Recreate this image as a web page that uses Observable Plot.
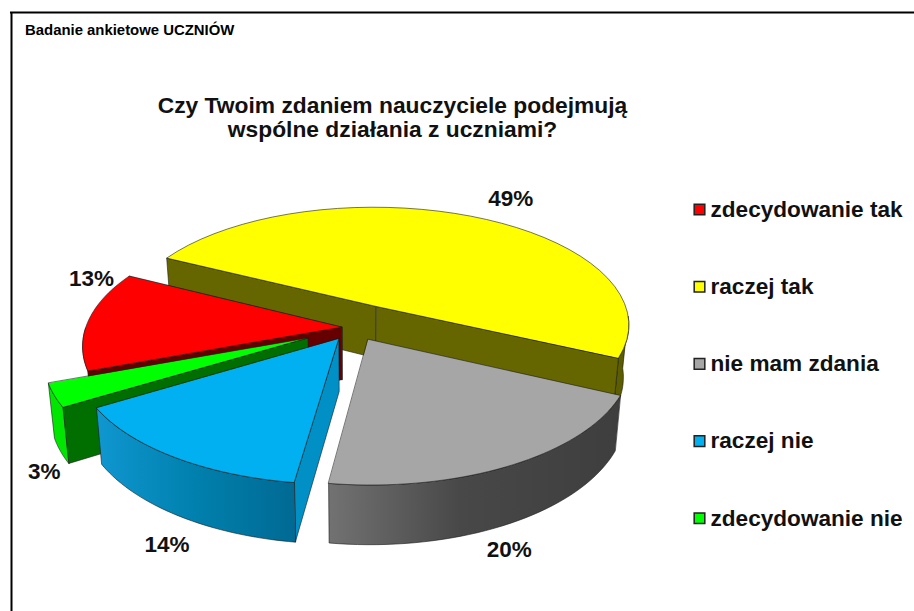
<!DOCTYPE html>
<html>
<head>
<meta charset="utf-8">
<style>html,body{margin:0;padding:0;background:#fff}svg{display:block}</style>
<script src="https://cdn.jsdelivr.net/npm/d3@7"></script>
<script src="https://cdn.jsdelivr.net/npm/@observablehq/plot@0.6"></script>
</head>
<body>
<script>
// Data
const categories = ["zdecydowanie tak", "raczej tak", "nie mam zdania", "raczej nie", "zdecydowanie nie"];
const percents = [13, 49, 20, 14, 3];
const topColors = ["#ff0000", "#ffff00", "#a6a6a6", "#00b0f0", "#00ff00"];
const explode = [0.05, 0.20, 0.11, 0.11, 0.20];
const labelNudge = [[3, -41], [40, -17], [-4, 85], [-6, 88], [-10, 76]];
const chartTitle = ["Czy Twoim zdaniem nauczyciele podejmują", "wspólne działania z uczniami?"];
const surveyNote = "Badanie ankietowe UCZNIÓW";

// Pie geometry (plan view projected with perspective)
const view = {cx: 354, cy: 327, A: 256, B: 120, k: 0.15, D: 52.5, base: 0.98, start: -110.3};
const total = d3.sum(percents);
const rad = Math.PI / 180;
let acc = view.start;
const slices = categories.map((name, i) => {
  const a0 = acc; acc += percents[i] / total * 360;
  return {name, i, a0, a1: acc, mid: (a0 + acc) / 2, pct: percents[i]};
});
function proj(s, deg, r, low) {
  const m = s.mid * rad, e = explode[s.i], t = deg * rad;
  const X = r * Math.sin(t) + e * Math.sin(m);
  const Y = r * Math.cos(t) + e * Math.cos(m);
  const w = 1 + view.k * Y;
  const f = low ? view.base : 1;
  return {x: view.cx + f * view.A * X / w, y: view.cy - f * view.B * Y / w + (low ? view.D / w : 0)};
}
const arc = (s, d0, d1, low) => d3.range(0, 41).map(j => proj(s, d0 + (d1 - d0) * j / 40, 1, low));
const topFace = s => [proj(s, s.mid, 0, false), ...arc(s, s.a0, s.a1, false)];
const radialWall = (s, deg) => [proj(s, s.mid, 0, false), proj(s, deg, 1, false), proj(s, deg, 1, true), proj(s, s.mid, 0, true)];
const outerWall = (s, d0, d1) => [...arc(s, d0, d1, false), ...arc(s, d1, d0, true)];

const edge = {stroke: "#1a1a1a", strokeWidth: 0.7, strokeOpacity: 0.85, curve: "linear-closed"};
const poly = (pts, fill) => Plot.line(pts, {x: "x", y: "y", fill, ...edge});
const [red, yellow, grey, blue, green] = slices;

function gradients() {
  const defs = d3.create("svg:defs");
  const add = (id, stops) => {
    const g = defs.append("linearGradient").attr("id", id).attr("x1", 0).attr("x2", 1).attr("y1", 0).attr("y2", 0);
    stops.forEach(([o, c]) => g.append("stop").attr("offset", o).attr("stop-color", c));
  };
  add("wallGrey", [[0, "#727272"], [0.45, "#484848"], [1, "#3e3e3e"]]);
  add("wallBlue", [[0, "#0f97d0"], [0.5, "#0080ad"], [1, "#006a94"]]);
  return defs.node();
}

const pieMarks = [
  // yellow
  poly(outerWall(yellow, 95, yellow.a1), "#5c5c00"),
  poly(radialWall(yellow, yellow.a0), "#666600"),
  poly(radialWall(yellow, yellow.a1), "#666600"),
  poly(topFace(yellow), topColors[1]),
  // red
  poly(radialWall(red, red.a1), "#f00000"),
  poly(outerWall(red, red.a0, red.a0 + 20), "#e80000"),
  poly(radialWall(red, red.a0), "#660000"),
  poly(topFace(red), topColors[0]),
  // green (last slice)
  poly(outerWall(green, green.a0, green.a1), "#00e600"),
  poly(radialWall(green, green.a0), "#006f00"),
  poly(topFace(green), topColors[4]),
  // grey
  poly(outerWall(grey, grey.a0, grey.a1), "url(#wallGrey)"),
  poly(topFace(grey), topColors[2]),
  // blue
  poly(radialWall(blue, blue.a0), "#0090c5"),
  poly(outerWall(blue, blue.a0, blue.a1), "url(#wallBlue)"),
  poly(topFace(blue), topColors[3])
];

const labels = slices.map(s => {
  const p = proj(s, s.mid, 1, false);
  return {x: p.x + labelNudge[s.i][0], y: p.y + labelNudge[s.i][1], text: s.pct + "%"};
});
const legendRows = categories.map((name, i) => ({name, i, color: topColors[i]}));
const font = "Liberation Sans, Arial, sans-serif";
const legendY = d => 209 + d.i * 77.2;

const chart = Plot.plot({
  width: 914, height: 611, margin: 0,
  x: {domain: [0, 914], range: [0, 914], axis: null},
  y: {domain: [0, 611], range: [0, 611], axis: null},
  style: {background: "#fff"},
  marks: [
    gradients,
    Plot.ruleX([11], {y1: 12, y2: 611, stroke: "#000", strokeWidth: 2}),
    Plot.ruleY([12], {x1: 10, x2: 914, stroke: "#000", strokeWidth: 2}),
    Plot.text([surveyNote], {x: 24.5, y: 30, text: d => d, textAnchor: "start", fontFamily: font, fontWeight: "bold", fontSize: 14.9, fill: "#000"}),
    Plot.text(chartTitle, {x: 392, y: (d, i) => 105 + i * 24, text: d => d, fontFamily: font, fontWeight: "bold", fontSize: 22.8, fill: "#111"}),
    ...pieMarks,
    Plot.text(labels, {x: "x", y: "y", text: "text", fontFamily: font, fontWeight: "bold", fontSize: 22.5, fill: "#111"}),
    Plot.dot(legendRows, {x: 699, y: legendY, r: 6, symbol: "square", fill: "color", stroke: "#222", strokeWidth: 1.5}),
    Plot.text(legendRows, {x: 710, y: legendY, text: "name", textAnchor: "start", fontFamily: font, fontWeight: "bold", fontSize: 22.6, fill: "#111"})
  ]
});
document.body.appendChild(chart);
</script>
</body>
</html>
